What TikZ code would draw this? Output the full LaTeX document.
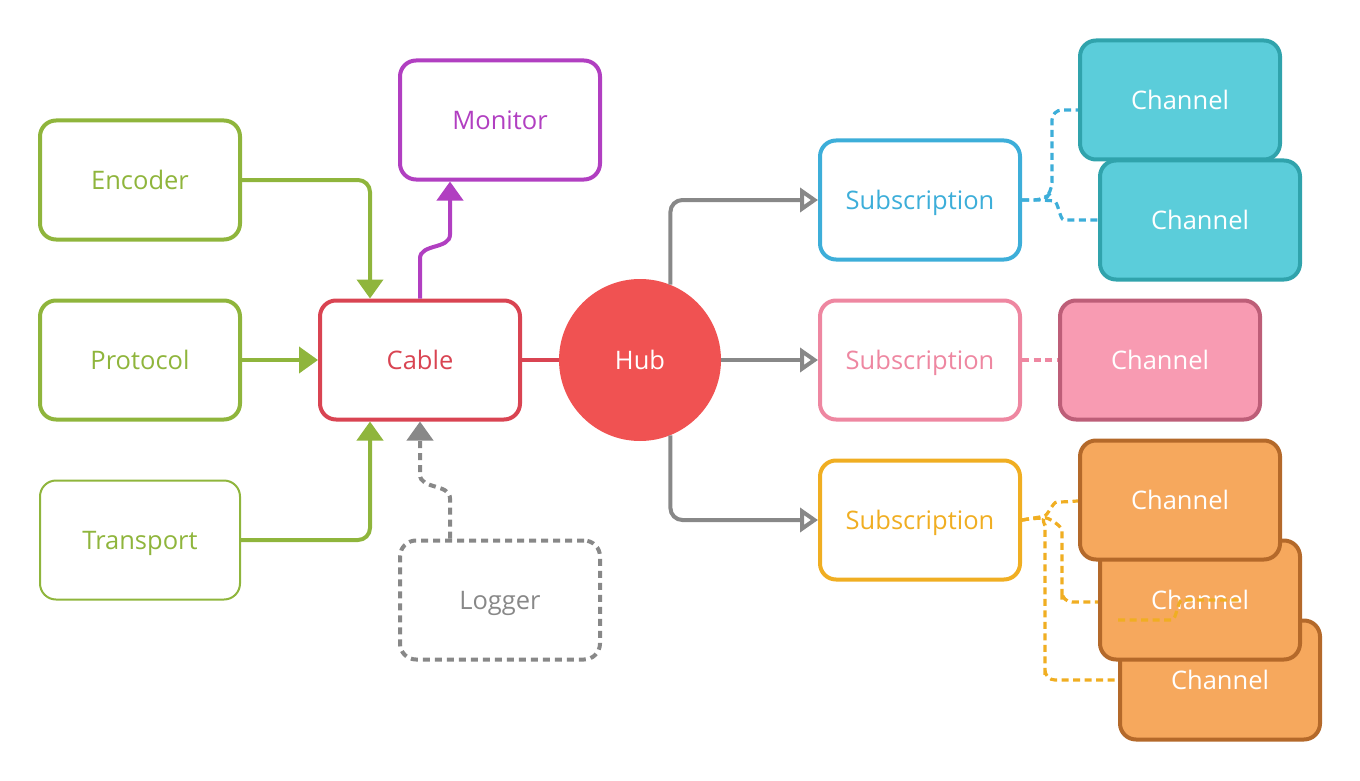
\documentclass[tikz,border=0pt]{standalone}
\usepackage{fontspec}
\setmainfont{Open Sans}
\usetikzlibrary{arrows.meta,calc}
\definecolor{cgreen}{HTML}{8FB53C}
\definecolor{cpurple}{HTML}{B13FC1}
\definecolor{cred}{HTML}{D94452}
\definecolor{hubred}{HTML}{F05252}
\definecolor{cgray}{HTML}{888888}
\definecolor{cblue}{HTML}{3DAED9}
\definecolor{cpink}{HTML}{EE87A1}
\definecolor{cyellow}{HTML}{F0AE22}
\definecolor{bfill}{HTML}{5BCDDA}
\definecolor{bline}{HTML}{30A3AC}
\definecolor{pfill}{HTML}{F89BB2}
\definecolor{pline}{HTML}{BD5E78}
\definecolor{ofill}{HTML}{F6A85D}
\definecolor{oline}{HTML}{B4692A}
\tikzset{
  lbl/.style={font=\fontsize{25.5}{26}\selectfont, text height=19pt, text depth=0pt},
  box/.style={draw, rounded corners=16pt, line width=4pt, minimum width=200pt,
    minimum height=119pt, inner sep=0pt, lbl},
  chan/.style={box, text=white},
  conn/.style={line width=4pt},
  garrow/.style={conn, draw=cgreen, rounded corners=12pt, -{Triangle[length=19pt,width=26pt]}},
  parrow/.style={conn, draw=cpurple, -{Triangle[length=19pt,width=26pt]}},
  larrow/.style={conn, draw=cgray, dash pattern=on 7pt off 5pt, -{Triangle[length=19pt,width=26pt]}},
  harrow/.style={conn, draw=cgray, rounded corners=12pt, -{Triangle[open,length=18pt,width=24pt]}},
  dashc/.style={line width=3.2pt, dash pattern=on 7pt off 4.5pt, rounded corners=10pt},
}
\begin{document}
\begin{tikzpicture}[x=1pt,y=-1pt]
\useasboundingbox (0,0) rectangle (1360,781);
% left nodes
\node[box, draw=cgreen, text=cgreen] (enc) at (140,180) {Encoder};
\node[box, draw=cgreen, text=cgreen] (pro) at (140,360) {Protocol};
\node[box, draw=cgreen, text=cgreen, line width=2pt, minimum width=200pt, minimum height=119pt] (tra) at (140,540) {Transport};
\node[box, draw=cpurple, text=cpurple] (mon) at (500,120) {Monitor};
\node[box, draw=cred, text=cred] (cab) at (420,360) {Cable};
\node[box, draw=cgray, text=cgray, dash pattern=on 7pt off 5pt] (log) at (500,600) {Logger};
\node[circle, fill=hubred, minimum size=162pt, inner sep=0pt, text=white, lbl] (hub) at (640,360) {Hub};
% subscriptions
\node[box, draw=cblue, text=cblue] (s1) at (920,200) {Subscription};
\node[box, draw=cpink, text=cpink] (s2) at (920,360) {Subscription};
\node[box, draw=cyellow, text=cyellow] (s3) at (920,520) {Subscription};
% left connectors
\draw[garrow] (enc.east) -| ([xshift=-50pt]cab.north);
\draw[garrow] (pro.east) -- (cab.west);
\draw[garrow] (tra.east) -| ([xshift=-50pt]cab.south);
\draw[parrow] (cab.north) -- ++(0,-40) to[out=90,in=-90] ++(30,-24) -- ([xshift=-50pt]mon.south);
\draw[larrow] ([xshift=-50pt]log.north) -- ++(0,-40) to[out=90,in=-90] ++(-30,-24) -- (cab.south);
\draw[conn, draw=cred] (cab.east) -- (hub.west);
% hub connectors
\draw[harrow] (hub.68) |- (s1.west);
\draw[harrow] (hub.east) -- (s2.west);
\draw[harrow] (hub.-68) |- (s3.west);
% channel connectors (behind channels)
\draw[dashc, draw=cblue] (s1.east) -- ++(22,0) -- ++(8,-8) -- ++(0,-82) -- ++(30,0);
\draw[dashc, draw=cblue] (s1.east) -- ++(22,0) to[out=-5,in=180] ++(30,20) -- ++(28,0);
\draw[dashc, draw=cpink] (s2.east) -- ++(40,0);
\draw[dashc, draw=cyellow] (s3.east) -- ++(12,-2) to[out=10,in=180] ++(33,-16) -- ++(20,-2);
\draw[dashc, draw=cyellow] (s3.east) -- ++(14,-2) to[out=0,in=90] ++(26,22) -- ++(0,50) -- ++(0,12) -- ++(45,0);
\draw[dashc, draw=cyellow] (s3.east) -- ++(12,-2) to[out=0,in=90] ++(11,17) -- ++(0,130) -- ++(0,15) -- ++(90,0);
% channels
\node[chan, draw=bline, fill=bfill] (bc1) at (1180,100) {Channel};
\node[chan, draw=bline, fill=bfill] (bc2) at (1200,220) {Channel};
\node[chan, draw=pline, fill=pfill] (pc) at (1160,360) {Channel};
\node[chan, draw=oline, fill=ofill] (oc3) at (1220,680) {Channel};
\node[chan, draw=oline, fill=ofill] (oc2) at (1200,600) {Channel};
\draw[dashc, draw=cyellow] ($(oc2.center)+(-82,20)$) -- ($(oc2.center)+(-38,20)$) to[out=0,in=180] ($(oc2.center)+(-8,0)$) -- ($(oc2.center)+(40,0)$);
\node[chan, draw=oline, fill=ofill] (oc1) at (1180,500) {Channel};
\end{tikzpicture}
\end{document}
